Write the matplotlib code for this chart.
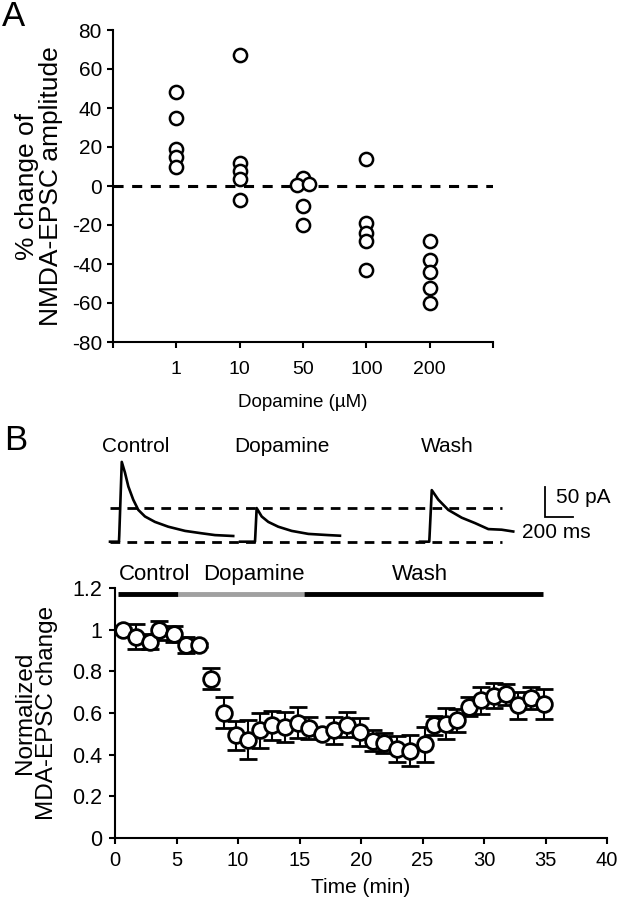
import matplotlib
matplotlib.use("Agg")
import matplotlib.pyplot as plt
import numpy as np

plt.rcParams['font.family'] = ['Liberation Sans', 'DejaVu Sans']

# ---------------- Panel A data ----------------
doses = ["1", "10", "50", "100", "200"]
dose_1 = [48, 35, 19, 15, 10]
dose_10 = [67, 12, 7.5, 3.5, -7]
dose_50 = [4, 0.5, 1, -10, -20]
dose_100 = [14, -19, -24, -28, -43]
dose_200 = [-28, -38, -44, -52.5, -60]
jitter_50 = [0.0, -0.1, 0.1, 0.0, 0.0]

# ---------------- Panel B traces (ms since sweep start, pA) ----------------
ctrl_t = [0, 64, 66, 84, 107, 131, 166, 202, 250, 321, 416, 536, 655, 750, 880]
ctrl_i = [0, 0, 10, 133, 115, 92, 70, 53, 42, 33, 25, 18, 14, 11, 9.5]
dopa_t = [0, 107, 109, 119, 155, 202, 273, 369, 488, 630, 714]
dopa_i = [0, 0, 8, 56, 42, 33, 25, 18, 13, 11, 10]
wash_t = [0, 66, 68, 84, 131, 202, 298, 393, 488, 583, 666]
wash_i = [0, 0, 8, 86, 70, 53, 40, 31, 21, 20, 17]
trace_labels = ["Control", "Dopamine", "Wash"]
ref_level = 56  # pA, dashed reference at dopamine peak

# ---------------- Panel B time course ----------------
time_min = [0.67, 1.73, 2.85, 3.6, 4.8, 5.78, 6.8, 7.82, 8.85, 9.83,
            10.8, 11.8, 12.8, 13.8, 14.9, 15.8, 16.8, 17.8, 18.9, 19.9,
            20.95, 21.9, 22.9, 24.0, 25.2, 25.95, 26.9, 27.8, 28.8, 29.75,
            30.8, 31.75, 32.8, 33.8, 34.9]
norm = [1.0, 0.966, 0.942, 0.997, 0.98, 0.926, 0.926, 0.764, 0.601, 0.493,
        0.472, 0.517, 0.541, 0.533, 0.554, 0.528, 0.50, 0.517, 0.544, 0.509,
        0.468, 0.457, 0.428, 0.42, 0.449, 0.541, 0.549, 0.565, 0.63, 0.662,
        0.683, 0.69, 0.638, 0.674, 0.641]
sem = [0.01, 0.06, 0.035, 0.045, 0.04, 0.037, 0.01, 0.05, 0.075, 0.07,
       0.095, 0.085, 0.07, 0.07, 0.075, 0.055, 0.01, 0.065, 0.06, 0.065,
       0.05, 0.048, 0.063, 0.075, 0.085, 0.045, 0.075, 0.055, 0.045, 0.065,
       0.06, 0.05, 0.065, 0.053, 0.072]
phase_names = ["Control", "Dopamine", "Wash"]
phase_bounds = [0.28, 5.09, 15.4, 34.8]
phase_colors = ["black", "#a0a0a0", "black"]

W, H = 619, 899
fig = plt.figure(figsize=(W / 100, H / 100), dpi=100)

def fbox(x0, y0, x1, y1):
    return [x0 / W, 1 - y1 / H, (x1 - x0) / W, (y1 - y0) / H]

# ================= Panel A =================
axA = fig.add_axes(fbox(113, 30, 493, 342))
groups = [dose_1, dose_10, dose_50, dose_100, dose_200]
for k, vals in enumerate(groups):
    xs = np.full(len(vals), k + 1, dtype=float)
    if k == 2:
        xs = xs + np.array(jitter_50)
    axA.plot(xs, vals, 'o', ms=9.5, mfc='white', mec='black', mew=1.8,
             linestyle='none', zorder=3)
axA.axhline(0, color='black', lw=2.2, linestyle=(0, (3.3, 2.8)), zorder=2)
axA.set_xlim(0, 6)
axA.set_ylim(-80, 80)
axA.set_xticks(range(0, 7))
axA.set_xticklabels([""] + doses + [""], fontsize=14)
axA.set_yticks(range(-80, 81, 20))
axA.set_yticklabels([str(v) for v in range(-80, 81, 20)], fontsize=15)
axA.set_xlabel("Dopamine (µM)", fontsize=13.5, labelpad=11)
axA.set_ylabel("% change of\nNMDA-EPSC amplitude", fontsize=19, labelpad=6,
               linespacing=1.0)
for s in ['top', 'right']:
    axA.spines[s].set_visible(False)
for s in ['left', 'bottom']:
    axA.spines[s].set_linewidth(1.5)
axA.tick_params(direction='out', length=4, width=1.5, pad=4)
axA.tick_params(axis='x', pad=10)
fig.text(2 / W, 1 - 16 / H, "A", fontsize=25, va='center', ha='left')
fig.text(4 / W, 1 - 441 / H, "B", fontsize=25, va='center', ha='left')

# ================= Panel B traces =================
ms_per_px = 200 / 28.0
pa_per_px = 50 / 30.0
base_px = 541.7
axT = fig.add_axes(fbox(100, 450, 610, 550))
axT.set_xlim(0, 510 * ms_per_px)
axT.set_ylim((base_px - 550) * pa_per_px, (base_px - 450) * pa_per_px)
axT.axis('off')
onsets = [10 * ms_per_px, 140 * ms_per_px, 320 * ms_per_px]
traces = [(ctrl_t, ctrl_i), (dopa_t, dopa_i), (wash_t, wash_i)]
for (tt, ii), on in zip(traces, onsets):
    axT.plot(np.array(tt) + on, ii, color='black', lw=1.9,
             solid_joinstyle='round')
x_d0, x_d1 = 10 * ms_per_px, 402 * ms_per_px
for lvl in [0, ref_level]:
    axT.plot([x_d0, x_d1], [lvl, lvl], color='black', lw=2.0,
             linestyle=(0, (3.5, 2.6)))
label_px = [136, 282, 447]
for name, lx in zip(trace_labels, label_px):
    fig.text(lx / W, 1 - 447 / H, name, fontsize=15,
             ha='center', va='center')
# scale bar
sb_x = 445 * ms_per_px
sb_y = (base_px - 517) * pa_per_px
axT.plot([sb_x, sb_x, sb_x + 200], [sb_y + 50, sb_y, sb_y], color='black',
         lw=1.3, solid_joinstyle='miter')
fig.text(556 / W, 1 - 497 / H, "50 pA", fontsize=15, ha='left', va='center')
fig.text(522 / W, 1 - 533 / H, "200 ms", fontsize=15, ha='left', va='center')

# ================= Panel B time course =================
axB = fig.add_axes(fbox(115, 588, 607, 838))
axB.errorbar(time_min, norm, yerr=sem, fmt='o', ms=11.3, mfc='white',
             mec='black', mew=2.0, ecolor='black', elinewidth=1.5,
             capsize=6.5, capthick=1.5, zorder=3)
for k in range(len(phase_names)):
    axB.plot([phase_bounds[k], phase_bounds[k + 1]], [1.17, 1.17],
             color=phase_colors[k], lw=3.5, solid_capstyle='butt', zorder=2,
             clip_on=False)
axB.text(3.25, 1.265, phase_names[0], fontsize=16, ha='center', va='center')
axB.text(11.3, 1.265, phase_names[1], fontsize=16, ha='center', va='center')
axB.text(24.8, 1.265, phase_names[2], fontsize=16, ha='center', va='center')
axB.set_xlim(0, 40)
axB.set_ylim(0, 1.2)
axB.set_xticks(range(0, 41, 5))
axB.set_xticklabels([str(v) for v in range(0, 41, 5)], fontsize=14.5)
yt = [0, 0.2, 0.4, 0.6, 0.8, 1.0, 1.2]
axB.set_yticks(yt)
axB.set_yticklabels(["0", "0.2", "0.4", "0.6", "0.8", "1", "1.2"], fontsize=15.5)
axB.set_xlabel("Time (min)", fontsize=15, labelpad=6)
axB.set_ylabel("Normalized\nMDA-EPSC change", fontsize=17.5, labelpad=10,
               linespacing=1.0)
for s in ['top', 'right']:
    axB.spines[s].set_visible(False)
for s in ['left', 'bottom']:
    axB.spines[s].set_linewidth(1.5)
axB.tick_params(direction='out', length=4, width=1.5, pad=5)

fig.savefig("out.png", dpi=100)
